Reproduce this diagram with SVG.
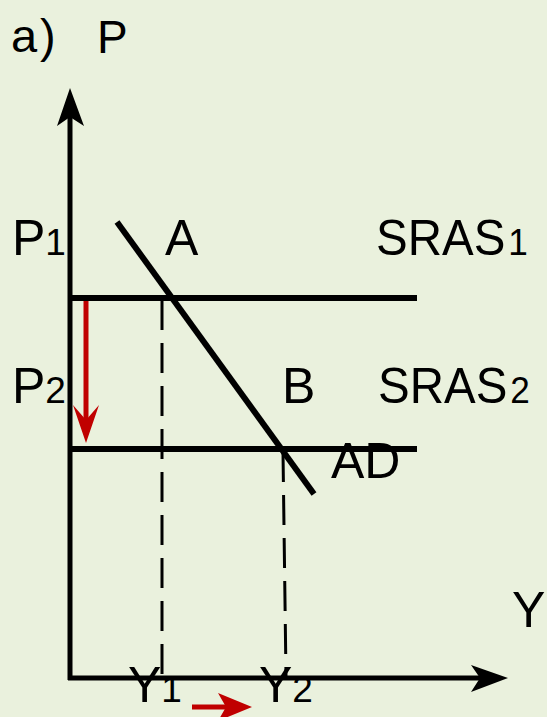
<svg xmlns="http://www.w3.org/2000/svg" width="547" height="717" viewBox="0 0 547 717">
<defs>
<style>
.t{font-family:"Liberation Sans",Arial,sans-serif;font-size:50px;fill:#000}
.h{font-size:46px}
.s{font-size:37px}
.ax{stroke:#000;stroke-width:5;fill:none}
.ln{stroke:#000;stroke-width:6;fill:none}
.ds{stroke:#000;stroke-width:3;fill:none;stroke-dasharray:30 13}
.rd{stroke:#C00000;stroke-width:5;fill:none}
</style>
</defs>
<rect width="547" height="717" fill="#EAF1DD"/>
<g id="connectors">
<line class="ax" x1="70" y1="115" x2="70" y2="680"/>
<polygon points="70,88 84,126 70,117 57,126" fill="#000"/>
<line class="ax" x1="68" y1="678" x2="482" y2="678"/>
<polygon points="508,678 471,692 480,678 471,665" fill="#000"/>
<line class="ds" x1="162" y1="300" x2="162" y2="676"/>
<line class="ds" x1="283" y1="452" x2="286" y2="676"/>
<line class="rd" x1="86" y1="297" x2="86" y2="425"/>
<polygon points="86,443 73,405 86,420 99,405" fill="#C00000"/>
<line class="rd" x1="192" y1="707" x2="232" y2="707"/>
<polygon points="252,707 218,693 226,707 218,721" fill="#C00000"/>
</g>
<g id="SRAS1"><line class="ln" x1="70" y1="298" x2="417" y2="298"/></g>
<g id="SRAS2"><line class="ln" x1="70" y1="449" x2="417" y2="449"/></g>
<g id="AD"><line class="ln" x1="117" y1="222" x2="314" y2="494"/></g>
<g id="labels">
<text class="t" style="font-size:47px" x="11" y="52">a<tspan x="40">)</tspan></text>
<text class="t h" x="97" y="53">P</text>
<text class="t" x="12" y="255">P<tspan class="s">1</tspan></text>
<text class="t" x="165" y="255">A</text>
<text class="t" transform="translate(376,255) scale(0.95,1)">SRAS<tspan class="s" dx="3">1</tspan></text>
<text class="t" x="12" y="403">P<tspan class="s">2</tspan></text>
<text class="t" x="282" y="403">B</text>
<text class="t" transform="translate(378,403) scale(0.95,1)">SRAS<tspan class="s" dx="3">2</tspan></text>
<text class="t" x="331" y="478">AD</text>
<text class="t" x="512" y="627">Y</text>
<text class="t" x="128" y="702">Y<tspan class="s">1</tspan></text>
<text class="t" x="259" y="702">Y<tspan class="s">2</tspan></text>
</g>
</svg>
